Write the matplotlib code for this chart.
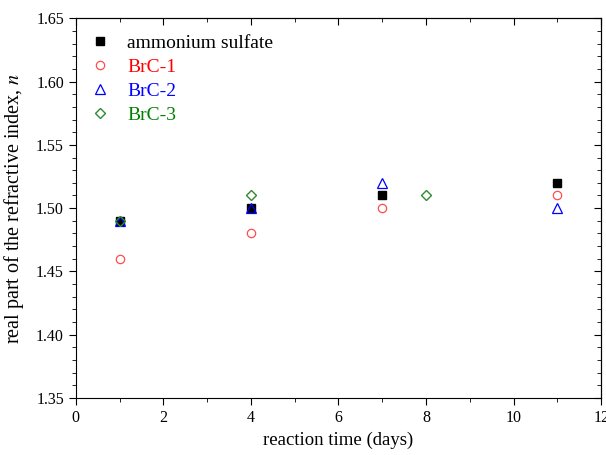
import matplotlib
matplotlib.use('Agg')
import matplotlib.pyplot as plt
from matplotlib.ticker import MultipleLocator

plt.rcParams['font.family'] = ['Liberation Serif', 'DejaVu Serif']
plt.rcParams['mathtext.fontset'] = 'stix'

# data
t_as = [1, 4, 7, 11]
n_as = [1.49, 1.50, 1.51, 1.52]
t_b1 = [1, 4, 7, 11]
n_b1 = [1.46, 1.48, 1.50, 1.51]
t_b2 = [1, 4, 7, 11]
n_b2 = [1.49, 1.50, 1.52, 1.50]
t_b3 = [1, 4, 8]
n_b3 = [1.49, 1.51, 1.51]

fig = plt.figure(figsize=(6.06, 4.55), dpi=100)
ax = fig.add_axes([0.125, 0.125, 0.867, 0.835])

ax.plot(t_as, n_as, 's', color='black', ms=5.5, label='ammonium sulfate')
ax.plot(t_b1, n_b1, 'o', mfc='none', mec='#ff4d4d', mew=0.9, ms=6, label='BrC-1')
ax.plot(t_b2, n_b2, '^', mfc='none', mec='blue', mew=0.9, ms=6.5, label='BrC-2')
ax.plot(t_b3, n_b3, 'D', mfc='none', mec='#2e8b2e', mew=1.0, ms=5.5, label='BrC-3')

ax.set_xlim(0, 12)
ax.set_ylim(1.35, 1.65)
ax.xaxis.set_major_locator(MultipleLocator(2))
ax.xaxis.set_minor_locator(MultipleLocator(1))
ax.yaxis.set_major_locator(MultipleLocator(0.05))
ax.yaxis.set_minor_locator(MultipleLocator(0.01))
ax.yaxis.set_major_formatter(plt.FormatStrFormatter('%.2f'))

ax.tick_params(which='both', direction='out', labelsize=11.5, top=False, right=False)
ax.tick_params(which='major', length=5)
ax.tick_params(which='minor', length=3)
# inward ticks on top and right
ax2 = ax.secondary_xaxis('top')
ax2.xaxis.set_major_locator(MultipleLocator(2))
ax2.xaxis.set_minor_locator(MultipleLocator(1))
ax2.tick_params(which='both', direction='in', labeltop=False)
ax2.tick_params(which='major', length=5)
ax2.tick_params(which='minor', length=3)
ay2 = ax.secondary_yaxis('right')
ay2.yaxis.set_major_locator(MultipleLocator(0.05))
ay2.yaxis.set_minor_locator(MultipleLocator(0.01))
ay2.tick_params(which='both', direction='in', labelright=False)
ay2.tick_params(which='major', length=5)
ay2.tick_params(which='minor', length=3)

ax.set_xlabel('reaction time (days)', fontsize=13.5, labelpad=4)
ax.set_ylabel('real part of the refractive index, $\\it{n}$', fontsize=14.5, labelpad=7)

leg = ax.legend(loc='upper left', bbox_to_anchor=(-0.008, 0.99), frameon=False, fontsize=14,
                handletextpad=0.6, borderaxespad=0.25, labelspacing=0.32, handlelength=1.6)
for txt, c in zip(leg.get_texts(), ['black', 'red', 'blue', 'green']):
    txt.set_color(c)

fig.savefig('out.png', dpi=100)
